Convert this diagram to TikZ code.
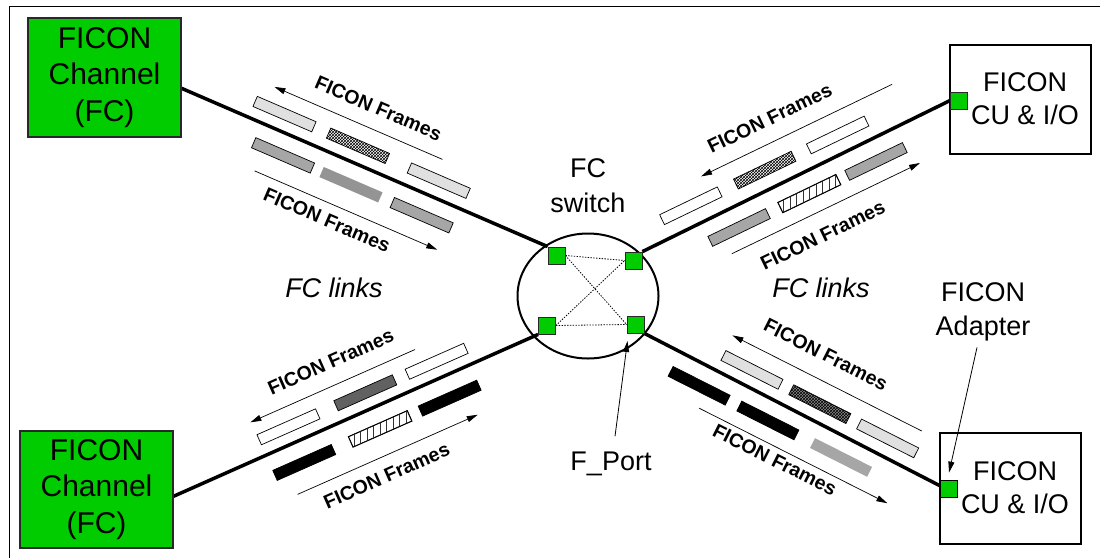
\documentclass[tikz,border=0pt]{standalone}
\usepackage{fontspec}
\setmainfont{Liberation Sans}
\usetikzlibrary{arrows.meta,calc,shapes.geometric,patterns}
\pgfdeclarelayer{bg}
\pgfsetlayers{bg,main}
\definecolor{fgreen}{RGB}{0,204,0}
\definecolor{edgegray}{RGB}{40,40,40}
\newcommand\vhatchframe[1]{%
  \begin{scope}
    \clip (#1.north west) -- (#1.north east) -- (#1.south east) -- (#1.south west) -- cycle;
    \foreach \hx in {-32.5,-26,...,33} {
      \draw[line width=0.6pt, black!80] ($(#1.center)+(\hx,-25)$) -- ($(#1.center)+(\hx,25)$);
    }
  \end{scope}
  \draw[line width=0.7pt] (#1.north west) -- (#1.north east) -- (#1.south east) -- (#1.south west) -- cycle;
}
\begin{document}
\begin{tikzpicture}[x=1pt,y=-1pt,
  chan/.style={draw=edgegray, line width=1.3pt, fill=fgreen, minimum width=153pt, minimum height=119pt, inner sep=0, align=center, font=\fontsize{30}{36.5}\selectfont},
  cubox/.style={draw, line width=2.5pt, fill=white, minimum width=141pt, minimum height=109pt, inner sep=0},
  cutext/.style={align=center, inner sep=0, font=\fontsize{27}{33}\selectfont},
  port/.style={draw=edgegray, line width=0.8pt, fill=fgreen, minimum size=17pt, inner sep=0},
  link/.style={line width=3.5pt},
  sdot/.style={line width=0.8pt, dash pattern=on 1.4pt off 1.4pt},
  frm/.style={rectangle, transform shape, minimum width=64pt, minimum height=11pt, inner sep=0, draw, line width=0.7pt},
  fLight/.style={frm, fill=black!12},
  fMed/.style={frm, fill=black!35},
  fDark/.style={frm, fill=black!62},
  fCross/.style={frm, preaction={fill=white}, pattern=crosshatch},
  fCrossD/.style={frm, preaction={fill=black!45}, pattern=crosshatch},
  fWhite/.style={frm, fill=white},
  fBlack/.style={frm, fill=black},
  fSolid/.style={frm, draw=none, fill=black!42},
  fHatch/.style={frm, fill=white},
  flow/.style={line width=0.7pt, -{Triangle[length=11pt,width=6pt]}},
  flabel/.style={transform shape, inner sep=0, font=\bfseries\fontsize{19.5}{19.5}\selectfont},
  lbl/.style={inner sep=0, font=\fontsize{27}{33}\selectfont},
  ptr/.style={line width=0.8pt, -{Triangle[length=11pt,width=6pt]}},
]
\useasboundingbox (0,0) rectangle (1100,558);
\draw[line width=0.9pt] (9,558) -- (9,6) -- (1100,6);

% end boxes
\node[chan] (chTL) at (104.5,77.5) {FICON\\Channel\\(FC)};
\node[chan, minimum height=117pt] (chBL) at (96.5,489.5) {FICON\\Channel\\(FC)};
\node[cubox] (cuTR) at (1020.5,99.5) {};
\node[cutext] (cuTRt) at (1025,99) {FICON\\CU \& I/O};
\node[cubox, minimum height=111pt] (cuBR) at (1010.5,488.5) {};
\node[cutext] (cuBRt) at (1015,487.5) {FICON\\CU \& I/O};

% switch
\node[ellipse, draw, line width=2pt, minimum width=141pt, minimum height=125pt, inner sep=0] (sw) at (588,296) {};
\node[port] (pTL) at (556.5,255.5) {};
\node[port] (pTR) at (633.5,260.5) {};
\node[port] (pBL) at (547,325.5) {};
\node[port] (pBR) at (635.5,324.5) {};
\node[port] (adTR) at (959,100.5) {};
\node[port, draw=black, line width=1.8pt] (adBR) at (949,489) {};

\begin{pgfonlayer}{bg}
\draw[link] (chTL.-8.5) -- (pTL.north west);
\draw[link] (pTR.north east) -- (adTR.west);
\draw[link] (chBL.-5.6) -- (pBL.south west);
\draw[link] (pBR.south east) -- (adBR.160);
\draw[sdot] (pTL.east) -- (pTR.west);
\draw[sdot] (pTL.east) -- (pBR.west);
\draw[sdot] (pBL.east) -- (pTR.west);
\draw[sdot] (pBL.east) -- (pBR.west);
\end{pgfonlayer}

% labels
\node[lbl, align=center, font=\fontsize{27}{35}\selectfont] (swl) at (588,186) {FC\\switch};
\node[lbl, anchor=base] (fport) at (611,470) {F\_Port};
\node[lbl, align=center, font=\fontsize{27}{34}\selectfont] (adl) at (983,312) {FICON\\Adapter};
\node[lbl, anchor=base, font=\itshape\fontsize{27}{33}\selectfont] (lkL) at (334,297) {FC links};
\node[lbl, anchor=base, font=\itshape\fontsize{27}{33}\selectfont] (lkR) at (821,297) {FC links};
\coordinate (fpT) at (627.5,341);
\draw[ptr] ($(fport.north)+(4,-15)$) -- (fpT);
\draw[ptr] ($(adl.south)+(-6,6)$) -- ($(adBR.north)+(0,-7)$);

% top-left link frames
\begin{scope}[shift={(181,89)}, rotate=-23.35]
  \node[fLight] (tl1) at (105,-18) {};
  \node[fCross] (tl2) at (185,-18) {};
  \node[fLight] (tl3) at (273,-18) {};
  \node[fMed] (tl4) at (120,20.5) {};
  \node[fSolid] (tl5) at (194,20.5) {};
  \node[fMed] (tl6) at (271,20.5) {};
  \coordinate (tlUa) at (268,-39); \coordinate (tlUb) at (85,-39);
  \coordinate (tlLa) at (100,46); \coordinate (tlLb) at (299,46);
  \draw[flow] (tlUa) -- (tlUb);
  \draw[flow] (tlLa) -- (tlLb);
  \node[flabel] (tlUl) at (189,-60.5) {FICON Frames};
  \node[flabel] (tlLl) at (186,62.5) {FICON Frames};
\end{scope}

% top-right link frames
\begin{scope}[shift={(641,252)}, rotate=25.74]
  \node[fWhite] (tr1) at (65,-20) {};
  \node[fCross] (tr2) at (147,-20) {};
  \node[fWhite] (tr3) at (228,-20) {};
  \node[fMed] (tr4) at (99,20.5) {};
  \node[fHatch] (tr5) at (177,20.5) {};
  \node[fMed] (tr6) at (251,20.5) {};
  \coordinate (trUa) at (299,-42); \coordinate (trUb) at (87,-42);
  \coordinate (trLa) at (81,41); \coordinate (trLb) at (290,41);
  \draw[flow] (trUa) -- (trUb);
  \draw[flow] (trLa) -- (trLb);
  \node[flabel] (trUl) at (174,-64.5) {FICON Frames};
  \node[flabel] (trLl) at (171,64) {FICON Frames};
\end{scope}
\vhatchframe{tr5}

% bottom-left link frames
\begin{scope}[shift={(173,497)}, rotate=23.86]
  \node[fWhite] (bl1) at (134,-17.5) {};
  \node[fDark] (bl2) at (218,-17.5) {};
  \node[fWhite] (bl3) at (296,-17.5) {};
  \node[fBlack] (bl4) at (134,21.5) {};
  \node[fHatch] (bl5) at (217,21.5) {};
  \node[fBlack] (bl6) at (293,21.5) {};
  \coordinate (blUa) at (281,-37); \coordinate (blUb) at (101,-37);
  \coordinate (blLa) at (115,48); \coordinate (blLb) at (312,48);
  \draw[flow] (blUa) -- (blUb);
  \draw[flow] (blLa) -- (blLb);
  \node[flabel] (blUl) at (199,-60) {FICON Frames};
  \node[flabel] (blLl) at (204,67) {FICON Frames};
\end{scope}
\vhatchframe{bl5}

% bottom-right link frames
\begin{scope}[shift={(643,335)}, rotate=-26.8]
  \node[fLight] (br1) at (113,-18) {};
  \node[fCrossD] (br2) at (189,-18) {};
  \node[fLight] (br3) at (265,-18) {};
  \node[fBlack] (br4) at (73,20) {};
  \node[fBlack] (br5) at (150,20) {};
  \node[fSolid, fill=black!35] (br6) at (232,20) {};
  \coordinate (brUa) at (292,-40); \coordinate (brUb) at (80,-40);
  \coordinate (brLa) at (83,40); \coordinate (brLb) at (294,40);
  \draw[flow] (brUa) -- (brUb);
  \draw[flow] (brLa) -- (brLb);
  \node[flabel] (brUl) at (172,-65) {FICON Frames};
  \node[flabel] (brLl) at (174,52) {FICON Frames};
\end{scope}
\end{tikzpicture}
\end{document}
